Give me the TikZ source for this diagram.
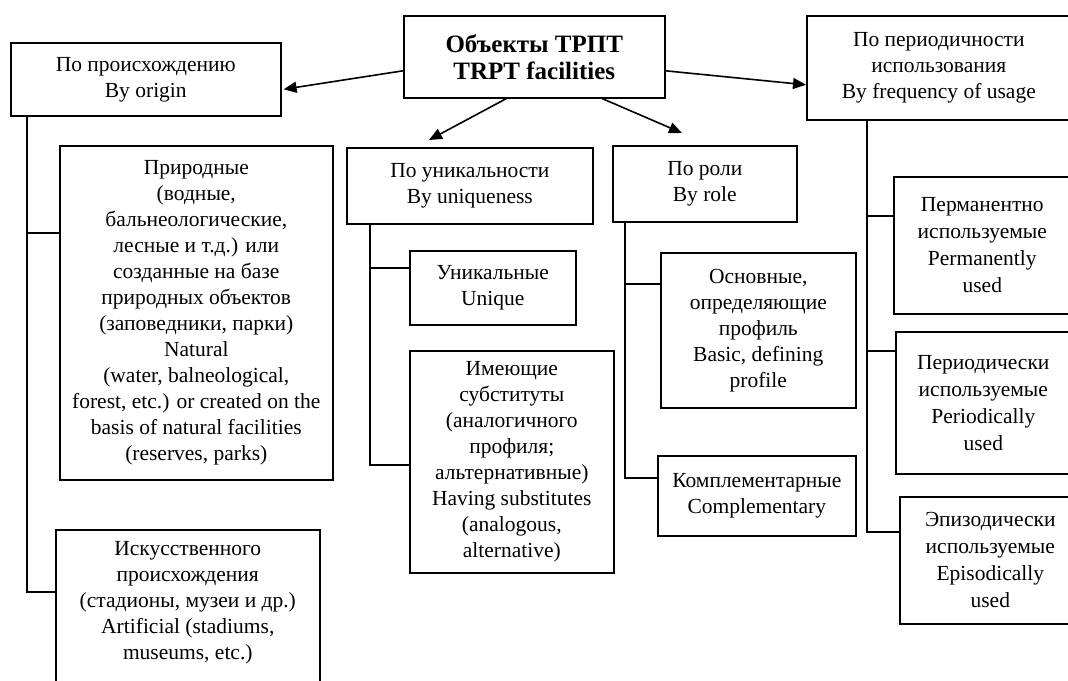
\documentclass[tikz,border=0pt]{standalone}
\usepackage{fontspec}
\setmainfont{Liberation Serif}
\usetikzlibrary{arrows.meta,calc}
\begin{document}
\begin{tikzpicture}[x=1pt,y=-1pt,
  box/.style={draw, line width=1.6pt, anchor=north west, inner sep=0pt, align=center,
    font=\fontsize{21.5}{26}\selectfont},
  txt/.style={inner sep=0pt, align=center, font=\fontsize{21.5}{26}\selectfont},
  conn/.style={line width=1.6pt},
  arr/.style={line width=1.6pt, -{Triangle[length=13pt,width=11pt]}}]
\useasboundingbox (0,0) rectangle (1068,680);
\clip (0,0) rectangle (1068,680);

\node[box, font=\fontsize{25}{27}\selectfont\bfseries, minimum width=261pt, minimum height=82pt] (root) at (403,15) {Объекты ТРПТ\\TRPT facilities};
\node[box, minimum width=270pt, minimum height=73pt] (origin) at (10,42) {По происхождению\\By origin};
\node[box, minimum width=264pt, minimum height=104pt] (freq) at (806,15) {По периодичности\\использования\\By frequency of usage};
\node[box, minimum width=273pt, minimum height=334pt] (nat) at (59,145) {Природные\\(водные,\\бальнеологические,\\лесные и т.д.) или\\созданные на базе\\природных объектов\\(заповедники, парки)\\Natural\\(water, balneological,\\forest, etc.) or created on the\\basis of natural facilities\\(reserves, parks)};
\node[box, minimum width=264pt, minimum height=180pt] (art) at (55,529) {};
\node[txt, anchor=north] (arttext) at ($(art.north)+(0,12)$) {Искусственного\\происхождения\\(стадионы, музеи и др.)\\Artificial (stadiums,\\museums, etc.)};
\node[box, minimum width=246pt, minimum height=76pt] (uniq) at (346,147) {По уникальности\\By uniqueness};
\node[box, minimum width=166pt, minimum height=74pt] (unique) at (409,250) {Уникальные\\Unique};
\node[box, minimum width=204pt, minimum height=222pt] (subst) at (409,350) {Имеющие\\субституты\\(аналогичного\\профиля;\\альтернативные)\\Having substitutes\\(analogous,\\alternative)};
\node[box, minimum width=184pt, minimum height=76pt] (role) at (612,145) {По роли\\By role};
\node[box, minimum width=195pt, minimum height=155pt] (basic) at (660,252) {Основные,\\определяющие\\профиль\\Basic, defining\\profile};
\node[box, minimum width=198pt, minimum height=80pt] (comp) at (657,455) {Комплементарные\\Complementary};
\node[box, font=\fontsize{21.5}{27}\selectfont, minimum width=177pt, minimum height=137pt] (perm) at (893,176) {Перманентно\\используемые\\Permanently\\used};
\node[box, font=\fontsize{21.5}{27}\selectfont, minimum width=175pt, minimum height=142pt] (period) at (895,331) {Периодически\\используемые\\Periodically\\used};
\node[box, font=\fontsize{21.5}{27}\selectfont, minimum width=181pt, minimum height=127pt] (epi) at (899,496) {Эпизодически\\используемые\\Episodically\\used};

% arrows from root
\draw[arr] ($(root.west)+(0,14)$) -- ($(origin.east)+(2,10)$);
\draw[arr] ($(root.east)+(0,14)$) -- ($(freq.west)+(0,17)$);
\draw[arr] ($(root.south)+(-28,0)$) -- ($(uniq.north west)+(83,-7)$);
\draw[arr] ($(root.south)+(68,0)$) -- ($(role.north west)+(70,-12)$);

% trunks
\draw[conn] ($(origin.south west)+(17,0)$) |- ($(art.north west)+(0,63)$);
\draw[conn] ($(origin.south west)+(17,0)$) |- ($(nat.north west)+(0,88)$);
\draw[conn] ($(uniq.south west)+(24,0)$) |- ($(subst.north west)+(0,115)$);
\draw[conn] ($(uniq.south west)+(24,0)$) |- ($(unique.north west)+(0,18)$);
\draw[conn] ($(role.south west)+(13,0)$) |- ($(comp.north west)+(0,23)$);
\draw[conn] ($(role.south west)+(13,0)$) |- ($(basic.north west)+(0,32)$);
\draw[conn] ($(freq.south west)+(61,0)$) |- ($(epi.north west)+(0,36)$);
\draw[conn] ($(freq.south west)+(61,0)$) |- ($(perm.north west)+(0,40)$);
\draw[conn] ($(freq.south west)+(61,0)$) |- ($(period.north west)+(0,20)$);
\end{tikzpicture}
\end{document}
